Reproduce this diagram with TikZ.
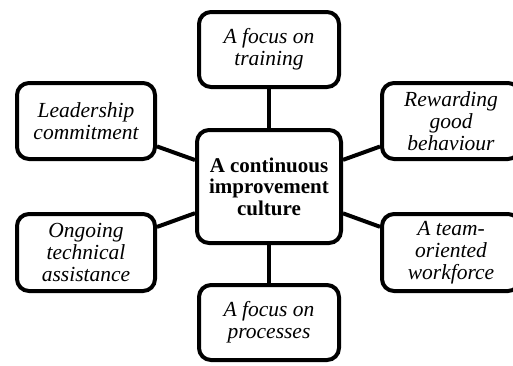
\documentclass[tikz,border=0pt]{standalone}
\usepackage{fontspec}
\setmainfont{Liberation Serif}
\usetikzlibrary{positioning}

\begin{document}
\begin{tikzpicture}[
    x=1pt, y=-1pt,
    box/.style={draw, line width=4pt, rounded corners=12pt, align=center,
        font=\fontsize{21.5}{22}\selectfont\itshape, inner sep=0pt,
        minimum width=138pt, minimum height=76pt},
    core/.style={box, font=\fontsize{21}{21.5}\selectfont\bfseries,
        minimum width=144pt, minimum height=113pt},
    link/.style={line width=4pt}
]
\useasboundingbox (0,0) rectangle (513,365);

% Centre
\node[core] (culture) at (269,186.5) {A continuous\\improvement\\culture};

% Outer boxes
\node[box, minimum width=140pt, minimum height=75pt] (training) at (269,49.5) {A focus on\\training};
\node[box, minimum width=140pt, minimum height=75pt] (processes) at (269,322.5) {A focus on\\processes};
\node[box] (leader) at (86,121) {Leadership\\commitment};
\node[box, minimum height=77pt] (assist) at (86,252.5) {Ongoing\\technical\\assistance};
\node[box] (reward) at (451,121) {Rewarding\\good\\behaviour};
\node[box, minimum height=77pt] (team) at (451,252.5) {A team-\\oriented\\workforce};

% Connectors
\draw[link] (training) -- (culture);
\draw[link] (processes) -- (culture);
\draw[link] (leader) -- (culture);
\draw[link] (assist) -- (culture);
\draw[link] (reward) -- (culture);
\draw[link] (team) -- (culture);
\end{tikzpicture}
\end{document}
